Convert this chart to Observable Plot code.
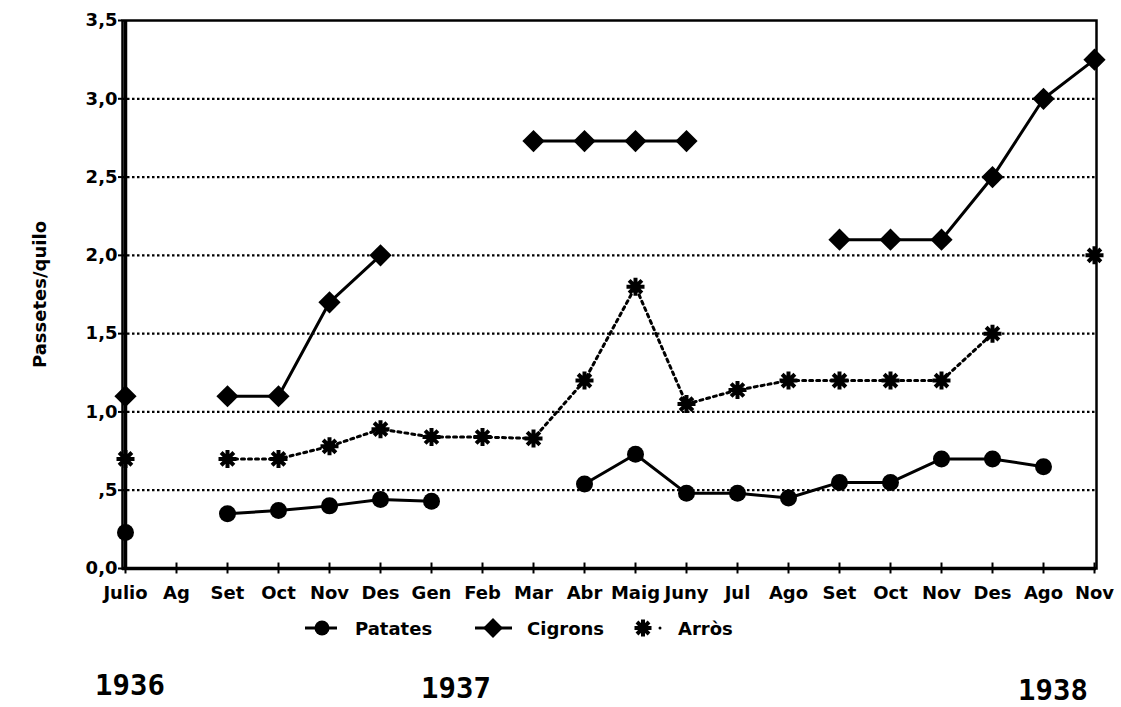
<!DOCTYPE html>
<html><head><meta charset="utf-8">
<script src="https://cdn.jsdelivr.net/npm/d3@7"></script>
<script src="https://cdn.jsdelivr.net/npm/@observablehq/plot@0.6"></script>
<style>
body{margin:0;background:#fff;}
#wrap{position:relative;width:1121px;height:707px;}
#below{position:absolute;left:0;top:610px;}
</style></head><body><div id="wrap"><div id="chart"></div><svg id="below" width="1121" height="97"></svg></div>
<script>
// ---- data ----
const months = ["Julio","Ag","Set","Oct","Nov","Des","Gen","Feb","Mar","Abr","Maig","Juny","Jul","Ago","Set","Oct","Nov","Des","Ago","Nov"];
const patates = [0.23, null, 0.35, 0.37, 0.40, 0.44, 0.43, null, null, 0.54, 0.73, 0.48, 0.48, 0.45, 0.55, 0.55, 0.70, 0.70, 0.65, null];
const cigrons = [1.10, null, 1.10, 1.10, 1.70, 2.00, null, null, 2.73, 2.73, 2.73, 2.73, null, null, 2.10, 2.10, 2.10, 2.50, 3.00, 3.25];
const arros   = [0.70, null, 0.70, 0.70, 0.78, 0.89, 0.84, 0.84, 0.83, 1.20, 1.80, 1.05, 1.14, 1.20, 1.20, 1.20, 1.20, 1.50, null, 2.00];
const yTicks = [0, 0.5, 1, 1.5, 2, 2.5, 3, 3.5];
const yTickLabels = ["0,0", ",5", "1,0", "1,5", "2,0", "2,5", "3,0", "3,5"];
const seriesNames = ["Patates", "Cigrons", "Arròs"];
const years = ["1936", "1937", "1938"];
const yLabel = "Passetes/quilo";

const rows = months.map((m, i) => ({i, m, patates: patates[i], cigrons: cigrons[i], arros: arros[i]}));
const idx = d3.range(months.length);

const asterisk8 = {
  draw(ctx, size) {
    const r = Math.sqrt(size / Math.PI);
    for (let k = 0; k < 4; k++) {
      const a = k * Math.PI / 4, dx = r * Math.cos(a), dy = r * Math.sin(a);
      ctx.moveTo(-dx, -dy); ctx.lineTo(dx, dy);
    }
  }
};

const chart = Plot.plot({
  width: 1121, height: 610,
  marginLeft: 122, marginRight: 25, marginTop: 20, marginBottom: 42,
  style: "font-family:'DejaVu Sans',sans-serif;font-weight:bold;font-size:18px;background:#fff;color:#000;overflow:visible;",
  x: {type: "point", domain: idx, padding: 0},
  y: {domain: [0, 3.5]},
  marks: [
    Plot.ruleY(yTicks.slice(1, -1), {y: d => d, stroke: "black", strokeWidth: 2.2, strokeDasharray: "2.5,2.5"}),
    Plot.frame({stroke: "black", strokeWidth: 2.5}),
    Plot.ruleY([0], {stroke: "black", strokeWidth: 3.5}),
    Plot.ruleX([0], {stroke: "black", strokeWidth: 3.5}),
    Plot.ruleX(idx, {x: d => d, y1: -0.035, y2: 0.035, stroke: "black", strokeWidth: 2}),
    Plot.axisY(yTicks, {tickFormat: d => yTickLabels[yTicks.indexOf(d)], tickSize: 4, tickPadding: 1, strokeWidth: 2,
      label: yLabel, labelAnchor: "center", labelArrow: "none", labelOffset: 89}),
    Plot.axisX(idx, {tickFormat: i => months[i], tickSize: 0, tickPadding: 18, label: null}),
    Plot.line(rows, {x: "i", y: "patates", stroke: "black", strokeWidth: 3}),
    Plot.line(rows, {x: "i", y: "cigrons", stroke: "black", strokeWidth: 3}),
    Plot.line(rows, {x: "i", y: "arros", stroke: "black", strokeWidth: 3, strokeDasharray: "3,4"}),
    Plot.dot(rows, {x: "i", y: "patates", symbol: "circle", r: 8.5, fill: "black", stroke: "none"}),
    Plot.dot(rows, {x: "i", y: "cigrons", symbol: "diamond2", r: 10, fill: "black", stroke: "none"}),
    Plot.dot(rows, {x: "i", y: "arros", symbol: "circle", r: 5, fill: "black", stroke: "none"}),
    Plot.dot(rows, {x: "i", y: "arros", symbol: asterisk8, r: 9, fill: "none", stroke: "black", strokeWidth: 4})
  ]
});
document.getElementById("chart").appendChild(chart);

// ---- legend and year captions (below the SVG) ----
const below = d3.select("#below");
const ly = 18;
const font = "'DejaVu Sans',sans-serif";
// Patates
below.append("line").attr("x1", 305).attr("x2", 337).attr("y1", ly).attr("y2", ly).attr("stroke", "black").attr("stroke-width", 3);
below.append("circle").attr("cx", 322).attr("cy", ly).attr("r", 7.5).attr("fill", "black");
// Cigrons
below.append("line").attr("x1", 475).attr("x2", 512).attr("y1", ly).attr("y2", ly).attr("stroke", "black").attr("stroke-width", 3);
below.append("path").attr("d", d3.symbol(d3.symbolDiamond2, 250)()).attr("transform", `translate(493,${ly})`).attr("fill", "black");
// Arròs
below.append("circle").attr("cx", 643).attr("cy", ly).attr("r", 4.5).attr("fill", "black");
below.append("path").attr("d", d3.symbol(asterisk8, Math.PI * 8.5 * 8.5)()).attr("transform", `translate(643,${ly})`)
  .attr("fill", "none").attr("stroke", "black").attr("stroke-width", 4);
below.append("circle").attr("cx", 660).attr("cy", ly).attr("r", 1.5).attr("fill", "black");
const lx = [355, 527, 678];
seriesNames.forEach((s, k) => {
  below.append("text").attr("x", lx[k]).attr("y", ly + 6.5).text(s)
    .attr("font-family", font).attr("font-weight", "bold").attr("font-size", 18);
});
const yx = [95, 421, 1018], yb = [85, 88, 90];
years.forEach((y, k) => {
  below.append("text").attr("x", yx[k]).attr("y", yb[k]).text(y)
    .attr("font-family", "'DejaVu Sans Mono',monospace").attr("font-weight", "bold").attr("font-size", 29);
});
</script></body></html>
